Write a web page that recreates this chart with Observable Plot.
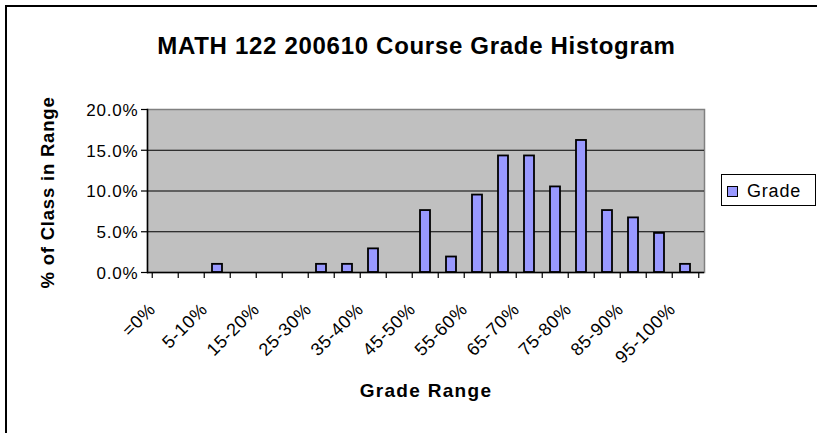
<!DOCTYPE html>
<html>
<head>
<meta charset="utf-8">
<script src="https://cdn.jsdelivr.net/npm/d3@7"></script>
<script src="https://cdn.jsdelivr.net/npm/@observablehq/plot@0.6"></script>
<style>
html, body { margin: 0; padding: 0; background: #fff; }
#wrap { position: relative; width: 817px; height: 433px; overflow: hidden; font-family: "Liberation Sans", Arial, sans-serif; }
#border { position: absolute; left: 5px; top: 5px; width: 1000px; height: 1000px; border-top: 2px solid #000; border-left: 2px solid #000; }
#chart { position: absolute; left: 0; top: 0; }
#legend { position: absolute; left: 721px; top: 174px; width: 95px; height: 32px; box-sizing: border-box; border: 1px solid #000; background: #fff; }
#legend .sw { position: absolute; left: 5px; top: 11px; width: 11px; height: 11px; box-sizing: border-box; border: 1.5px solid #000; background: #9999FF; }
#legend .lb { position: absolute; left: 25px; top: 7px; font-size: 18px; line-height: 18px; letter-spacing: 0.8px; color: #000; }
svg g[font-size="24"] text { letter-spacing: 0.7px; }
svg g[font-size="18.5"] text { letter-spacing: 0.8px; }
svg g[font-size="19"] text { letter-spacing: 1.3px; }
svg g[font-size="18"] text { letter-spacing: 0.6px; }
svg g[font-size="17"] text { letter-spacing: 0.8px; }
</style>
</head>
<body>
<div id="wrap">
  <div id="border"></div>
  <div id="chart"></div>
  <div id="legend"><span class="sw"></span><span class="lb" id="legendLabel"></span></div>
</div>
<script>
const title = "MATH 122 200610 Course Grade Histogram";
const xTitle = "Grade Range";
const yTitle = "% of Class in Range";
const seriesName = "Grade";
const categories = ["=0%", "0-5%", "5-10%", "10-15%", "15-20%", "20-25%", "25-30%", "30-35%", "35-40%", "40-45%", "45-50%", "50-55%", "55-60%", "60-65%", "65-70%", "70-75%", "75-80%", "80-85%", "85-90%", "90-95%", "95-100%"];
const values = [0, 0, 1.0, 0, 0, 0, 1.0, 1.0, 2.9, 0, 7.6, 1.9, 9.5, 14.3, 14.3, 10.5, 16.2, 7.6, 6.7, 4.8, 1.0];
const yTicks = [0, 5, 10, 15, 20];
const yTickLabels = ["0.0%", "5.0%", "10.0%", "15.0%", "20.0%"];
const xTickLabels = categories.filter((d, i) => i % 2 === 0);

const W = 817, H = 433, ML = 147, MR = 113, MT = 109, MB = 161;
const step = (W - ML - MR) / categories.length;

const data = categories.map((c, i) => ({cat: c, val: values[i]}));
const yTickData = yTicks.map((v, i) => ({v, label: yTickLabels[i]}));

const chart = Plot.plot({
  width: W, height: H,
  marginLeft: ML, marginRight: MR, marginTop: MT, marginBottom: MB,
  style: {fontFamily: "'Liberation Sans', Arial, sans-serif", background: "transparent", color: "#000", overflow: "visible"},
  x: {domain: categories, paddingInner: 0.6, paddingOuter: 0.3, axis: null},
  y: {domain: [0, 20], axis: null},
  marks: [
    Plot.frame({fill: "#C0C0C0", stroke: "#808080", strokeWidth: 1.5}),
    Plot.ruleY(yTicks.filter(t => t > 0 && t < 20), {stroke: "#000", strokeWidth: 1}),
    Plot.barY(data.filter(d => d.val > 0), {x: "cat", y: "val", fill: "#9999FF", stroke: "#000", strokeWidth: 1.8}),
    Plot.ruleY([0], {stroke: "#000", strokeWidth: 1.5}),
    Plot.frame({anchor: "left", stroke: "#000", strokeWidth: 1.5}),
    Plot.ruleX(categories, {x: d => d, y1: 0, y2: 0, insetBottom: -6, dx: -step / 2, stroke: "#000", strokeWidth: 1.2}),
    Plot.ruleX(categories.slice(-1), {x: d => d, y1: 0, y2: 0, insetBottom: -6, dx: step / 2, stroke: "#000", strokeWidth: 1.2}),
    Plot.ruleY(yTicks, {insetLeft: -6, insetRight: W - ML - MR, stroke: "#000", strokeWidth: 1.2}),
    Plot.text(yTickData, {y: "v", text: "label", frameAnchor: "left", textAnchor: "end", lineAnchor: "middle", dx: -9, dy: 1, fontSize: 17, fill: "#000"}),
    Plot.text(xTickLabels, {x: d => d, text: d => d, frameAnchor: "bottom", rotate: -45, textAnchor: "end", lineAnchor: "bottom", dx: -9, dy: 38, fontSize: 18, fill: "#000"}),
    Plot.text([title], {text: d => d, frameAnchor: "top", textAnchor: "middle", lineAnchor: "bottom", dx: -9.6, dy: -56, fontSize: 24, fontWeight: "bold", fill: "#000"}),
    Plot.text([yTitle], {text: d => d, frameAnchor: "left", textAnchor: "middle", rotate: -90, lineAnchor: "middle", dx: -99, dy: 1.5, fontSize: 18.5, fontWeight: "bold", fill: "#000"}),
    Plot.text([xTitle], {text: d => d, frameAnchor: "bottom", textAnchor: "middle", lineAnchor: "bottom", dy: 124.7, fontSize: 19, fontWeight: "bold", fill: "#000"})
  ]
});
document.getElementById("chart").appendChild(chart);
document.getElementById("legendLabel").textContent = seriesName;
</script>
</body>
</html>
